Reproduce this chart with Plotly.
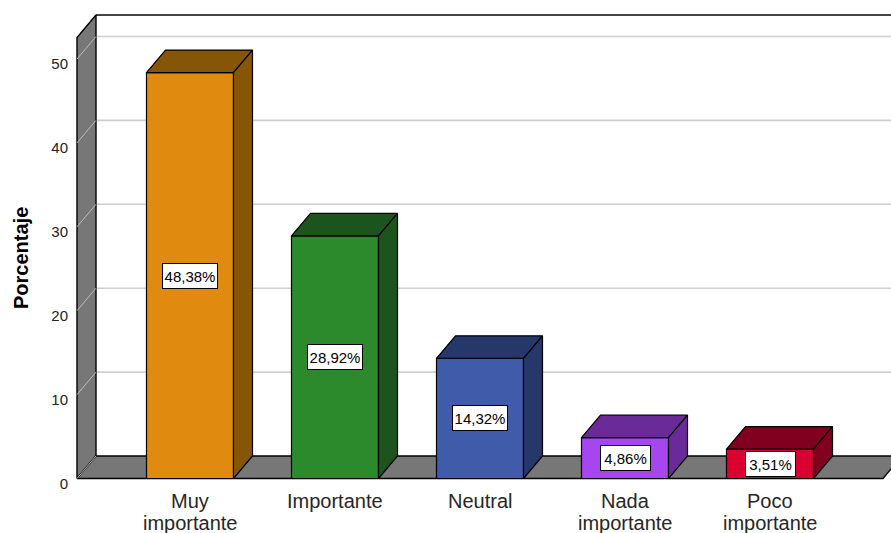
import plotly.graph_objects as go

# Survey results: share of respondents per importance rating
categories = ["Muy importante", "Importante", "Neutral", "Nada importante", "Poco importante"]
percentages = [48.38, 28.92, 14.32, 4.86, 3.51]
value_labels = ["48,38%", "28,92%", "14,32%", "4,86%", "3,51%"]
y_ticks = [0, 10, 20, 30, 40, 50]

front_colors = ["#E08A10", "#2C8A2C", "#3F5BAA", "#A646EE", "#DA0032"]
shade_colors = ["#875508", "#1D541D", "#26376A", "#6A2B98", "#82001F"]

# Layout geometry (pixels)
W, H = 891, 533
ML, MR, MT, MB = 70, 0, 10, 50
PX_PER_UNIT_X = 145.0      # distance between neighbouring bars
PX_PER_UNIT_Y = 8.39       # pixels per percentage point
FIRST_CENTER_PX = 190.0
ZERO_PX = 478.5
TOP_PX = 15.0
WALL_FRONT_PX = 77.0
FLOOR_RIGHT_PX = 883.0
DEPTH_DX_PX, DEPTH_DY_PX = 19.0, 22.5
BAR_W = 0.6

plot_w = W - ML - MR
plot_h = H - MT - MB
x_lo = (ML - FIRST_CENTER_PX) / PX_PER_UNIT_X
x_hi = x_lo + plot_w / PX_PER_UNIT_X
y_lo = -((H - MB) - ZERO_PX) / PX_PER_UNIT_Y
y_hi = (ZERO_PX - MT) / PX_PER_UNIT_Y
dx = DEPTH_DX_PX / PX_PER_UNIT_X
dy = DEPTH_DY_PX / PX_PER_UNIT_Y
wall_x = (WALL_FRONT_PX - FIRST_CENTER_PX) / PX_PER_UNIT_X
floor_right = (FLOOR_RIGHT_PX - FIRST_CENTER_PX) / PX_PER_UNIT_X
top_val = (ZERO_PX - TOP_PX) / PX_PER_UNIT_Y

FONT = "Arial, Liberation Sans"

fig = go.Figure()


def poly(xs, ys, fill, line_color="black", lw=1.2):
    fig.add_trace(go.Scatter(
        x=list(xs) + [xs[0]], y=list(ys) + [ys[0]],
        mode="lines", fill="toself", fillcolor=fill,
        line=dict(color=line_color, width=lw),
        hoverinfo="skip", showlegend=False))


def seg(xs, ys, color, lw=1.0):
    fig.add_trace(go.Scatter(
        x=xs, y=ys, mode="lines", line=dict(color=color, width=lw),
        hoverinfo="skip", showlegend=False))


# Back wall gridlines
for v in y_ticks:
    if v == 0:
        continue
    seg([wall_x + dx, x_hi + 1], [v + dy, v + dy], "#CFCFCF", 1.6)
# Back wall top edge
seg([wall_x + dx, x_hi + 1], [top_val, top_val], "#444444", 2.2)

# Left wall
poly([wall_x, wall_x, wall_x + dx, wall_x + dx],
     [0, top_val - dy, top_val, dy], "#777777", "black", 1.4)
for v in y_ticks:
    seg([wall_x, wall_x + dx], [v, v + dy], "#BDBDBD", 1.0)

# Floor
poly([wall_x, floor_right, floor_right + dx, x_hi + 1, wall_x + dx],
     [0, 0, dy, dy, dy], "#777777", "black", 1.4)
seg([wall_x, wall_x + dx], [0, dy], "#BDBDBD", 1.0)

# 3D bars: front, top and side faces
for i, v in enumerate(percentages):
    xl, xr = i - BAR_W / 2, i + BAR_W / 2
    poly([xl, xr, xr, xl], [0, 0, v, v], front_colors[i])
    poly([xl, xr, xr + dx, xl + dx], [v, v, v + dy, v + dy], shade_colors[i])
    poly([xr, xr + dx, xr + dx, xr], [0, dy, v + dy, v], shade_colors[i])

# Value labels in boxed annotations at half bar height
for i, (v, txt) in enumerate(zip(percentages, value_labels)):
    fig.add_annotation(
        x=i, y=v / 2, xref="x", yref="y", text=txt, showarrow=False,
        font=dict(family=FONT, size=15, color="black"),
        bgcolor="white", bordercolor="black", borderwidth=1,
        width=24 + 5 * len(txt), height=24, borderpad=0)

# Category labels below the floor, one annotation per text line
LINE1_PX, LINE_GAP_PX = 501.0, 22.0
for i, cat in enumerate(categories):
    words = cat.split(" ")
    lines = [cat] if len(words) == 1 else [words[0], " ".join(words[1:])]
    for k, line in enumerate(lines):
        py = LINE1_PX + k * LINE_GAP_PX
        fig.add_annotation(
            x=i, y=((H - MB) - py) / plot_h, xref="x", yref="paper",
            text=line, showarrow=False, yanchor="middle", xanchor="center",
            font=dict(family=FONT, size=20, color="#262626"))

# Y axis title
fig.add_annotation(
    x=(21 - ML) / plot_w, y=((H - MB) - 258) / plot_h, xref="paper", yref="paper",
    xanchor="center", yanchor="middle",
    text="<b>Porcentaje</b>", textangle=-90, showarrow=False,
    font=dict(family=FONT, size=20, color="black"))

fig.update_layout(
    width=W, height=H,
    margin=dict(l=ML, r=MR, t=MT, b=MB, autoexpand=False),
    paper_bgcolor="white", plot_bgcolor="white",
    xaxis=dict(range=[x_lo, x_hi], showgrid=False, zeroline=False,
               showticklabels=False, ticks="", showline=False, fixedrange=True),
    yaxis=dict(range=[y_lo, y_hi], showgrid=False, zeroline=False,
               tickvals=y_ticks, ticktext=[str(t) for t in y_ticks],
               ticks="", showline=False, ticklabelstandoff=1, ticklabelshift=5,
               tickfont=dict(family=FONT, size=15, color="#222222"),
               fixedrange=True),
    showlegend=False,
)

fig.write_html("out.html")
